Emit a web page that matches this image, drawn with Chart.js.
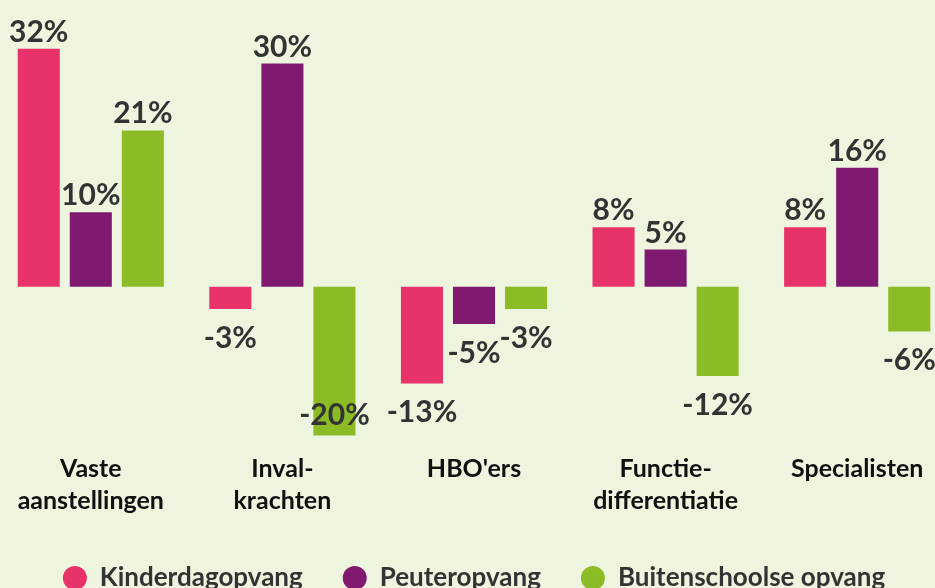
<!DOCTYPE html>
<html>
<head>
<meta charset="utf-8">
<script src="https://cdn.jsdelivr.net/npm/chart.js@4/dist/chart.umd.min.js"></script>
<style>
    html, body { margin: 0; padding: 0; background: #edf5df; overflow: hidden; width: 935px; height: 588px; }
    #wrap { position: absolute; left: -5px; top: 0; width: 958px; height: 601px; }
</style>
</head>
<body>
<div id="wrap"><canvas id="groei-chart"></canvas></div>
<script>
const categories = [
    ["Vaste", "aanstellingen"],
    ["Inval-", "krachten"],
    ["HBO'ers"],
    ["Functie-", "differentiatie"],
    ["Specialisten"],
];
const seriesNames = ["Kinderdagopvang", "Peuteropvang", "Buitenschoolse opvang"];
const kinderdagopvang = [32, -3, -13, 8, 8];
const peuteropvang = [10, 30, -5, 5, 16];
const buitenschoolse = [21, -20, -3, -12, -6];
const colors = ["#e8336a", "#7f1a70", "#8bbc26"];

const fontFamily = "Lato, 'Open Sans', sans-serif";

// waarden boven/onder de staven
const valueLabels = {
    id: "valueLabels",
    afterDatasetsDraw: function (chart) {
        const ctx = chart.ctx;
        ctx.save();
        ctx.font = "bold 30px " + fontFamily;
        ctx.fillStyle = "#333333";
        ctx.textAlign = "center";
        chart.data.datasets.forEach(function (ds, i) {
            chart.getDatasetMeta(i).data.forEach(function (bar, j) {
                const v = ds.data[j];
                const txt = v + "%";
                if (v >= 0) {
                    ctx.textBaseline = "alphabetic";
                    ctx.fillText(txt, bar.x, bar.y - 7);
                } else {
                    ctx.textBaseline = "top";
                    ctx.fillText(txt, bar.x, Math.min(bar.y + 14, 400));
                }
            });
        });
        ctx.restore();
    },
};

const chart = new Chart(document.getElementById("groei-chart"), {
    type: "bar",
    data: {
        labels: categories,
        datasets: [
            { label: seriesNames[0], data: kinderdagopvang, backgroundColor: colors[0] },
            { label: seriesNames[1], data: peuteropvang, backgroundColor: colors[1] },
            { label: seriesNames[2], data: buitenschoolse, backgroundColor: colors[2] },
        ],
    },
    options: {
        responsive: true,
        maintainAspectRatio: false,
        animation: false,
        barPercentage: 0.808,
        categoryPercentage: 0.815,
        layout: { padding: { top: 4, left: 0, right: 0, bottom: 0 } },
        plugins: {
            tooltip: { enabled: false },
            legend: {
                position: "bottom",
                labels: {
                    usePointStyle: true,
                    pointStyle: "circle",
                    pointStyleWidth: 24,
                    boxHeight: 17,
                    padding: 40,
                    color: "#333333",
                    font: { family: fontFamily, size: 26, weight: "bold" },
                },
            },
        },
        scales: {
            x: {
                grid: { display: false, drawTicks: false },
                border: { display: false },
                ticks: {
                    color: "#111111",
                    padding: 10,
                    font: { family: fontFamily, size: 25, weight: "bold", lineHeight: 1.28 },
                    maxRotation: 0,
                    autoSkip: false,
                },
                afterFit: function (scale) {
                    scale.height = 82;
                },
            },
            y: {
                display: false,
                min: -21,
                max: 38,
            },
        },
    },
    plugins: [valueLabels],
});
</script>
</body>
</html>
